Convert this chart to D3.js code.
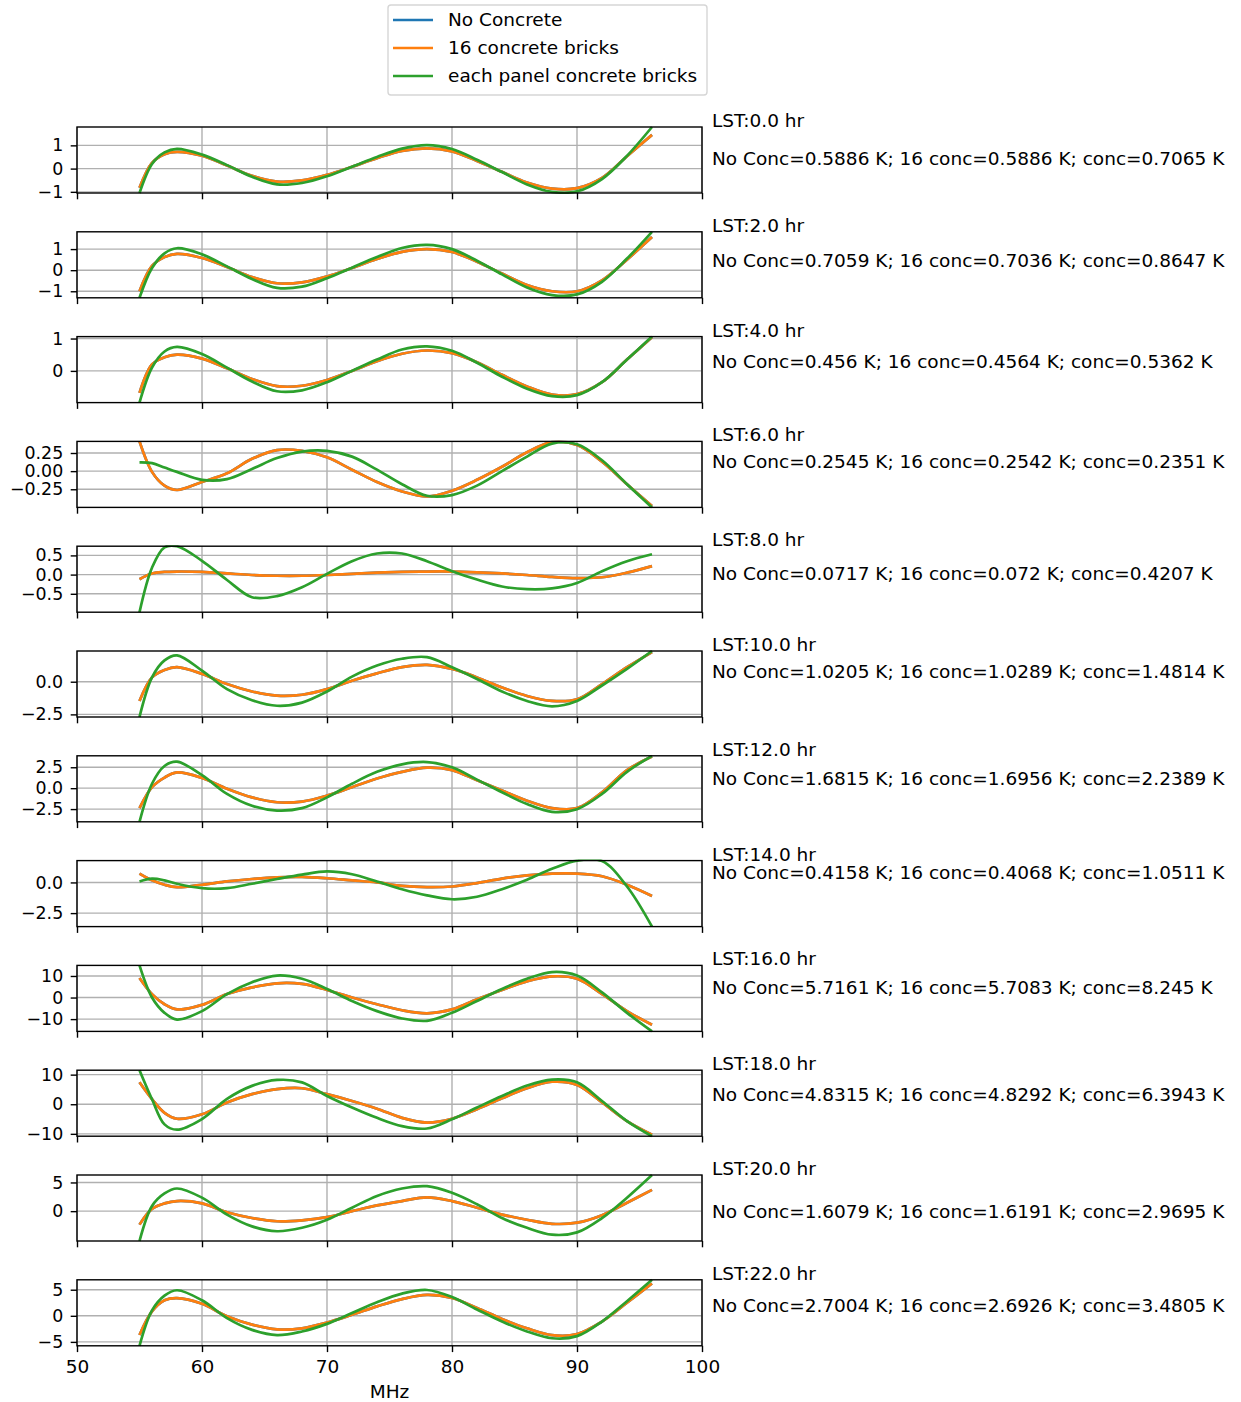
<!DOCTYPE html>
<html>
<head>
<meta charset="utf-8">
<script src="https://cdn.jsdelivr.net/npm/d3@7"></script>
<style>
  html, body { margin: 0; padding: 0; background: #ffffff; }
  svg { display: block; }
  text { font-family: "DejaVu Sans", sans-serif; fill: #000; }
</style>
</head>
<body>
<div id="chart"></div>
<script>
// Frequency samples (MHz) shared by every LST panel
const freqMHz = [55, 56, 57, 58, 60, 62, 64, 66, 68, 70, 72, 74, 76, 78, 80, 82, 84, 86, 88, 90, 92, 94, 96];

// Local sidereal time of each panel (hours)
const lstHours = [0, 2, 4, 6, 8, 10, 12, 14, 16, 18, 20, 22];

// Residuals (K) without concrete
const noConcrete = [
  [-0.82, 0.25, 0.62, 0.72, 0.55, 0.13, -0.31, -0.56, -0.51, -0.27, 0.08, 0.45, 0.76, 0.87, 0.74, 0.33, -0.14, -0.60, -0.86, -0.84, -0.40, 0.53, 1.45],
  [-1.0, 0.2, 0.62, 0.77, 0.58, 0.15, -0.33, -0.62, -0.58, -0.30, 0.1, 0.53, 0.87, 1.0, 0.86, 0.40, -0.16, -0.70, -1.0, -1.0, -0.48, 0.5, 1.57],
  [-0.68, 0.2, 0.42, 0.50, 0.38, 0.08, -0.25, -0.47, -0.46, -0.28, 0.0, 0.3, 0.53, 0.63, 0.55, 0.27, -0.12, -0.48, -0.73, -0.72, -0.35, 0.35, 1.04],
  [0.41, -0.01, -0.2, -0.26, -0.15, -0.03, 0.17, 0.29, 0.28, 0.19, 0.02, -0.15, -0.28, -0.35, -0.27, -0.12, 0.06, 0.26, 0.40, 0.36, 0.13, -0.18, -0.48],
  [-0.12, 0.03, 0.07, 0.08, 0.07, 0.03, -0.01, -0.03, -0.03, -0.01, 0.02, 0.05, 0.07, 0.08, 0.08, 0.06, 0.03, -0.01, -0.06, -0.09, -0.07, 0.05, 0.22],
  [-1.47, 0.33, 0.9, 1.11, 0.6, -0.18, -0.75, -1.07, -1.0, -0.57, 0.08, 0.64, 1.11, 1.29, 0.98, 0.33, -0.44, -1.09, -1.47, -1.34, -0.18, 1.11, 2.27],
  [-2.39, 0.12, 1.27, 1.88, 1.22, -0.07, -1.1, -1.68, -1.6, -0.89, 0.12, 1.15, 1.95, 2.45, 2.16, 0.94, -0.28, -1.5, -2.39, -2.39, -0.49, 2.16, 3.78],
  [0.72, 0.17, -0.19, -0.39, -0.19, 0.08, 0.28, 0.42, 0.45, 0.34, 0.17, 0.0, -0.28, -0.38, -0.33, -0.05, 0.31, 0.58, 0.72, 0.72, 0.5, -0.19, -1.11],
  [9.1, 1.6, -3.1, -5.5, -3.4, 1.6, 4.7, 6.6, 6.3, 3.5, 0.0, -3.1, -5.9, -7.3, -5.5, -0.8, 3.5, 7.5, 9.8, 8.7, 1.6, -6.3, -12.6],
  [7.4, 1.7, -2.9, -4.9, -3.4, 0.6, 3.4, 5.1, 5.4, 3.4, 1.1, -1.5, -4.6, -6.2, -4.9, -1.7, 2.0, 5.4, 7.6, 6.5, 0.6, -5.7, -10.3],
  [-2.35, 0.4, 1.35, 1.76, 1.35, -0.2, -1.2, -1.76, -1.6, -1.05, 0.0, 1.0, 1.76, 2.4, 1.76, 0.6, -0.6, -1.5, -2.2, -2.0, -0.7, 1.47, 3.7],
  [-3.68, 0.84, 2.97, 3.4, 2.3, -0.1, -1.7, -2.6, -2.4, -1.3, 0.2, 1.8, 3.2, 4.0, 3.4, 1.5, -0.6, -2.4, -3.7, -3.5, -1.1, 2.5, 6.2]
];

// Residuals (K) with 16 concrete bricks
const sixteenBricks = [
  [-0.82, 0.25, 0.62, 0.72, 0.55, 0.13, -0.31, -0.56, -0.51, -0.27, 0.08, 0.45, 0.76, 0.87, 0.74, 0.33, -0.14, -0.60, -0.86, -0.84, -0.40, 0.53, 1.45],
  [-1.0, 0.2, 0.62, 0.77, 0.58, 0.15, -0.33, -0.62, -0.58, -0.30, 0.1, 0.53, 0.87, 1.0, 0.86, 0.40, -0.16, -0.70, -1.0, -1.0, -0.48, 0.5, 1.57],
  [-0.68, 0.2, 0.42, 0.50, 0.38, 0.08, -0.25, -0.47, -0.46, -0.28, 0.0, 0.3, 0.53, 0.63, 0.55, 0.27, -0.12, -0.48, -0.73, -0.72, -0.35, 0.35, 1.04],
  [0.41, -0.01, -0.2, -0.26, -0.15, -0.03, 0.17, 0.29, 0.28, 0.19, 0.02, -0.15, -0.28, -0.35, -0.27, -0.12, 0.06, 0.26, 0.40, 0.36, 0.13, -0.18, -0.48],
  [-0.12, 0.03, 0.07, 0.08, 0.07, 0.03, -0.01, -0.03, -0.03, -0.01, 0.02, 0.05, 0.07, 0.08, 0.08, 0.06, 0.03, -0.01, -0.06, -0.09, -0.07, 0.05, 0.22],
  [-1.47, 0.33, 0.9, 1.11, 0.6, -0.18, -0.75, -1.07, -1.0, -0.57, 0.08, 0.64, 1.11, 1.29, 0.98, 0.33, -0.44, -1.09, -1.47, -1.34, -0.18, 1.11, 2.27],
  [-2.39, 0.12, 1.27, 1.88, 1.22, -0.07, -1.1, -1.68, -1.6, -0.89, 0.12, 1.15, 1.95, 2.45, 2.16, 0.94, -0.28, -1.5, -2.39, -2.39, -0.49, 2.16, 3.78],
  [0.72, 0.17, -0.19, -0.39, -0.19, 0.08, 0.28, 0.42, 0.45, 0.34, 0.17, 0.0, -0.28, -0.38, -0.33, -0.05, 0.31, 0.58, 0.72, 0.72, 0.5, -0.19, -1.11],
  [9.1, 1.6, -3.1, -5.5, -3.4, 1.6, 4.7, 6.6, 6.3, 3.5, 0.0, -3.1, -5.9, -7.3, -5.5, -0.8, 3.5, 7.5, 9.8, 8.7, 1.6, -6.3, -12.6],
  [7.4, 1.7, -2.9, -4.9, -3.4, 0.6, 3.4, 5.1, 5.4, 3.4, 1.1, -1.5, -4.6, -6.2, -4.9, -1.7, 2.0, 5.4, 7.6, 6.5, 0.6, -5.7, -10.3],
  [-2.35, 0.4, 1.35, 1.76, 1.35, -0.2, -1.2, -1.76, -1.6, -1.05, 0.0, 1.0, 1.76, 2.4, 1.76, 0.6, -0.6, -1.5, -2.2, -2.0, -0.7, 1.47, 3.7],
  [-3.68, 0.84, 2.97, 3.4, 2.3, -0.1, -1.7, -2.6, -2.4, -1.3, 0.2, 1.8, 3.2, 4.0, 3.4, 1.5, -0.6, -2.4, -3.7, -3.5, -1.1, 2.5, 6.2]
];

// Residuals (K) with concrete bricks under each panel
const panelBricks = [
  [-1.05, 0.2, 0.7, 0.85, 0.6, 0.15, -0.35, -0.68, -0.62, -0.33, 0.08, 0.5, 0.86, 1.01, 0.84, 0.38, -0.15, -0.68, -1.0, -0.98, -0.45, 0.55, 1.79],
  [-1.31, 0.1, 0.8, 1.04, 0.75, 0.18, -0.42, -0.84, -0.78, -0.38, 0.12, 0.62, 1.05, 1.2, 1.0, 0.45, -0.2, -0.82, -1.18, -1.15, -0.55, 0.55, 1.82],
  [-0.98, 0.1, 0.6, 0.74, 0.52, 0.1, -0.33, -0.63, -0.6, -0.35, 0.0, 0.35, 0.66, 0.76, 0.62, 0.25, -0.18, -0.55, -0.78, -0.75, -0.35, 0.35, 1.06],
  [0.12, 0.11, 0.05, -0.01, -0.12, -0.11, 0.03, 0.18, 0.27, 0.28, 0.2, 0.02, -0.18, -0.34, -0.33, -0.2, 0.0, 0.2, 0.38, 0.37, 0.15, -0.18, -0.50],
  [-0.98, 0.18, 0.71, 0.74, 0.36, -0.14, -0.59, -0.56, -0.33, 0.02, 0.35, 0.55, 0.55, 0.35, 0.09, -0.13, -0.31, -0.38, -0.36, -0.22, 0.09, 0.35, 0.53],
  [-2.70, 0.33, 1.63, 2.02, 0.85, -0.57, -1.42, -1.84, -1.6, -0.75, 0.39, 1.24, 1.76, 1.88, 1.11, 0.21, -0.75, -1.47, -1.88, -1.47, -0.29, 0.98, 2.35],
  [-4.02, 0.53, 2.65, 3.17, 1.55, -0.69, -2.11, -2.68, -2.39, -1.1, 0.53, 1.95, 2.85, 3.12, 2.49, 1.02, -0.49, -1.9, -2.84, -2.51, -0.69, 1.95, 3.87],
  [0.08, 0.31, 0.17, -0.11, -0.47, -0.47, -0.11, 0.28, 0.64, 0.9, 0.67, 0.08, -0.55, -1.05, -1.37, -1.17, -0.55, 0.22, 1.11, 1.78, 1.75, -0.33, -3.6],
  [14.9, 0.0, -7.1, -10.2, -6.3, 1.6, 7.1, 10.2, 8.7, 4.0, -1.6, -6.3, -9.7, -10.8, -7.1, -1.6, 4.0, 8.7, 11.8, 10.2, 2.4, -7.1, -15.7],
  [11.5, 1.7, -6.8, -8.6, -5.0, 1.8, 6.2, 8.2, 7.4, 2.8, -1.1, -4.6, -7.4, -8.2, -5.1, -1.1, 2.8, 6.3, 8.3, 7.4, 1.1, -5.7, -10.8],
  [-5.2, 0.9, 3.1, 3.95, 2.35, -0.6, -2.65, -3.5, -2.9, -1.5, 0.6, 2.65, 3.95, 4.35, 3.2, 1.2, -1.2, -2.9, -4.1, -3.7, -1.2, 2.35, 6.3],
  [-5.75, 1.03, 3.87, 4.9, 2.97, -0.45, -2.7, -3.7, -3.0, -1.55, 0.52, 2.6, 4.26, 4.95, 3.6, 1.2, -1.1, -3.0, -4.3, -3.9, -1.1, 2.8, 6.9]
];

// RMS of each residual (K), printed beside the panels
const rmsNoConc = [0.5886, 0.7059, 0.456, 0.2545, 0.0717, 1.0205, 1.6815, 0.4158, 5.7161, 4.8315, 1.6079, 2.7004];
const rms16Conc = [0.5886, 0.7036, 0.4564, 0.2542, 0.072, 1.0289, 1.6956, 0.4068, 5.7083, 4.8292, 1.6191, 2.6926];
const rmsPanelConc = [0.7065, 0.8647, 0.5362, 0.2351, 0.4207, 1.4814, 2.2389, 1.0511, 8.245, 6.3943, 2.9695, 3.4805];

// Data level (K) at which each RMS note sits
const noteLevel = [0, 0, 0, 0, -0.23, 0, 0, 0.0, 0, 0, -1.78, 0];

// Axis ticks
const xTicks = [50, 60, 70, 80, 90, 100];
const yTicks = [
  [-1, 0, 1], [-1, 0, 1], [0, 1], [-0.25, 0, 0.25], [-0.5, 0, 0.5], [-2.5, 0],
  [-2.5, 0, 2.5], [-2.5, 0], [-10, 0, 10], [-10, 0, 10], [0, 5], [-5, 0, 5]
];
const yTickDigits = [0, 0, 0, 2, 1, 1, 1, 1, 0, 0, 0, 0];

const seriesNames = ["No Concrete", "16 concrete bricks", "each panel concrete bricks"];
const seriesColors = ["#1f77b4", "#ff7f0e", "#2ca02c"];

// ---------- layout ----------
const W = 1241, H = 1402;
const plotLeft = 77, plotRight = 702;
const firstTop = 127, panelStep = 104.8, panelH = 66;
const fontSize = 18.5, tickFont = 17.4;
const tickLen = 6.3, tickPad = 7.5;

const svg = d3.select("#chart").append("svg")
  .attr("width", W).attr("height", H)
  .attr("viewBox", `0 0 ${W} ${H}`);

const x = d3.scaleLinear().domain([50, 100]).range([plotLeft, plotRight]);

const allSeries = [noConcrete, sixteenBricks, panelBricks];

lstHours.forEach((hr, i) => {
  const top = firstTop + i * panelStep;
  const g = svg.append("g").attr("transform", `translate(0,${top})`);

  const values = allSeries.flatMap(s => s[i]);
  const y = d3.scaleLinear().domain(d3.extent(values)).range([panelH, 0]);

  // grid
  const grid = g.append("g").attr("stroke", "#b0b0b0").attr("stroke-width", 1.4);
  grid.selectAll("line.vx").data(xTicks).join("line")
    .attr("x1", d => x(d)).attr("x2", d => x(d))
    .attr("y1", 0).attr("y2", panelH);
  grid.selectAll("line.hy").data(yTicks[i]).join("line")
    .attr("x1", plotLeft).attr("x2", plotRight)
    .attr("y1", d => y(d)).attr("y2", d => y(d));

  // curves
  const clipId = `clip-${i}`;
  g.append("clipPath").attr("id", clipId)
    .append("rect").attr("x", plotLeft).attr("y", -1)
    .attr("width", plotRight - plotLeft).attr("height", panelH + 2);

  const line = d3.line()
    .x((d, k) => x(freqMHz[k]))
    .y(d => y(d))
    .curve(d3.curveCatmullRom.alpha(0.5));

  const curves = g.append("g").attr("clip-path", `url(#${clipId})`);
  allSeries.forEach((s, k) => {
    curves.append("path")
      .attr("d", line(s[i]))
      .attr("fill", "none")
      .attr("stroke", seriesColors[k])
      .attr("stroke-width", 2.7)
      .attr("stroke-linejoin", "round")
      .attr("stroke-linecap", "butt");
  });

  // frame
  g.append("rect")
    .attr("x", plotLeft).attr("y", 0)
    .attr("width", plotRight - plotLeft).attr("height", panelH)
    .attr("fill", "none").attr("stroke", "#000").attr("stroke-width", 1.4);

  // axes
  const isLast = i === lstHours.length - 1;
  const xAxis = d3.axisBottom(x).tickValues(xTicks)
    .tickSize(tickLen).tickPadding(tickPad)
    .tickFormat(isLast ? d3.format("d") : () => "");
  const gx = g.append("g").attr("transform", `translate(0,${panelH})`).call(xAxis);
  gx.select(".domain").remove();
  gx.selectAll(".tick line").attr("stroke", "#000").attr("stroke-width", 1.4);
  gx.selectAll(".tick text")
    .attr("font-family", "DejaVu Sans").attr("font-size", fontSize).attr("fill", "#000");

  const yAxis = d3.axisLeft(y).tickValues(yTicks[i])
    .tickSize(tickLen).tickPadding(tickPad)
    .tickFormat(d3.format(`.${yTickDigits[i]}f`));
  const gy = g.append("g").attr("transform", `translate(${plotLeft},0)`).call(yAxis);
  gy.select(".domain").remove();
  gy.selectAll(".tick line").attr("stroke", "#000").attr("stroke-width", 1.4);
  gy.selectAll(".tick text")
    .attr("font-family", "DejaVu Sans").attr("font-size", tickFont).attr("fill", "#000");

  // notes
  const noteX = plotRight + 10;
  g.append("text")
    .attr("x", noteX).attr("y", 0)
    .attr("font-size", fontSize)
    .text(`LST:${hr.toFixed(1)} hr`);
  g.append("text")
    .attr("x", noteX).attr("y", y(noteLevel[i]) - 3.3)
    .attr("font-size", fontSize)
    .text(`No Conc=${rmsNoConc[i]} K; 16 conc=${rms16Conc[i]} K; conc=${rmsPanelConc[i]} K`);
});

// x label
svg.append("text")
  .attr("x", (plotLeft + plotRight) / 2)
  .attr("y", 1398)
  .attr("text-anchor", "middle")
  .attr("font-size", fontSize)
  .text("MHz");

// legend
const legend = svg.append("g").attr("transform", "translate(388,5)");
legend.append("rect")
  .attr("x", 0).attr("y", 0).attr("width", 319).attr("height", 90)
  .attr("rx", 3).attr("ry", 3)
  .attr("fill", "#ffffff").attr("fill-opacity", 0.8)
  .attr("stroke", "#d6d6d6").attr("stroke-width", 1.4);
seriesNames.forEach((name, k) => {
  const ly = 15 + k * 28;
  legend.append("line")
    .attr("x1", 5).attr("x2", 45).attr("y1", ly).attr("y2", ly)
    .attr("stroke", seriesColors[k]).attr("stroke-width", 2.7);
  legend.append("text")
    .attr("x", 60).attr("y", ly).attr("dy", "0.35em")
    .attr("font-size", fontSize)
    .text(name);
});
</script>
</body>
</html>
